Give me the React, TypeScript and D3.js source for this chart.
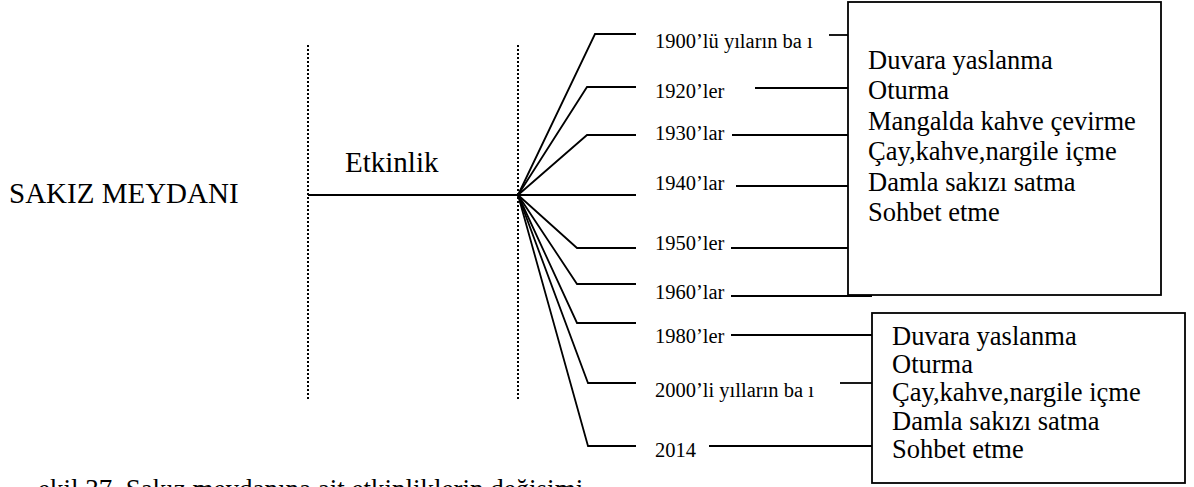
import * as d3 from 'd3'

// periods shown on the fan, top to bottom
const periods = [
  '1900’lü yıların ba ı',
  '1920’ler',
  '1930’lar',
  '1940’lar',
  '1950’ler',
  '1960’lar',
  '1980’ler',
  '2000’li yılların ba ı',
  '2014',
]
// which activity box each period points to
const periodGroup = [0, 0, 0, 0, 0, 0, 1, 1, 1]

const activitiesEarly = [
  'Duvara yaslanma',
  'Oturma',
  'Mangalda kahve çevirme',
  'Çay,kahve,nargile içme',
  'Damla sakızı satma',
  'Sohbet etme',
]
const activitiesLate = [
  'Duvara yaslanma',
  'Oturma',
  'Çay,kahve,nargile içme',
  'Damla sakızı satma',
  'Sohbet etme',
]

const placeName = 'SAKIZ MEYDANI'
const branchName = 'Etkinlik'
const caption = 'ekil 37. Sakız meydanına ait etkinliklerin değişimi'

const fanY = [34, 87, 135, 196, 248, 284, 323, 383, 446]
const elbowX = [595, 587, 587, 518, 577, 577, 577, 588, 588]
const labelBase = [48, 98, 140, 190, 250, 299, 343, 397, 457]
const linkY = [35, 88, 135, 186, 248, 296, 335, 383, 446]
const linkX0 = [829, 755, 732, 736, 731, 731, 731, 840, 709]

const font = '"Liberation Serif", "Times New Roman", serif'

export default function App() {
  const W = 1194
  const H = 487
  const hubX = 518
  const hubY = 195
  const leftX = 308
  const fanEnd = 636

  const boxes = [
    { x: 848, y: 2, w: 313, h: 293, items: activitiesEarly, first: 69, step: 30.4, tx: 868 },
    { x: 872, y: 313, w: 313, h: 170, items: activitiesLate, first: 345, step: 28.2, tx: 892 },
  ]

  const line = d3.line<[number, number]>()

  return (
    <svg
      width={W}
      height={H}
      style={{ position: 'absolute', left: 0, top: 0, background: '#fff' }}
      fontFamily={font}
    >
      <text x={9} y={203} fontSize={29} fill="#000">{placeName}</text>

      {[leftX, hubX].map((x, i) => (
        <line key={i} x1={x} x2={x} y1={45} y2={400}
          stroke="#000" strokeWidth={2} strokeDasharray="2,2" />
      ))}
      <line x1={leftX} x2={hubX} y1={hubY} y2={hubY} stroke="#000" strokeWidth={1.8} />
      <text x={345} y={172} fontSize={29} fill="#000">{branchName}</text>

      {periods.map((p, i) => {
        const pts: [number, number][] = i === 3
          ? [[hubX, hubY], [fanEnd, hubY]]
          : [[hubX, hubY], [elbowX[i], fanY[i]], [fanEnd, fanY[i]]]
        const box = boxes[periodGroup[i]]
        const x1 = i === 5 ? 872 : box.x
        return (
          <g key={p}>
            <path d={line(pts) || ''} fill="none" stroke="#000" strokeWidth={1.8} />
            <text x={655} y={labelBase[i]} fontSize={20.5} fill="#000">{p}</text>
            <line x1={linkX0[i]} x2={x1} y1={linkY[i]} y2={linkY[i]} stroke="#000" strokeWidth={1.8} />
          </g>
        )
      })}

      {boxes.map((b, bi) => (
        <g key={bi}>
          <rect x={b.x} y={b.y} width={b.w} height={b.h} fill="none" stroke="#000" strokeWidth={1.8} />
          {b.items.map((t, j) => (
            <text key={j} x={b.tx} y={b.first + j * b.step} fontSize={26.5} fill="#000">{t}</text>
          ))}
        </g>
      ))}

      <text x={38} y={498} fontSize={27} fill="#000">{caption}</text>
    </svg>
  )
}
